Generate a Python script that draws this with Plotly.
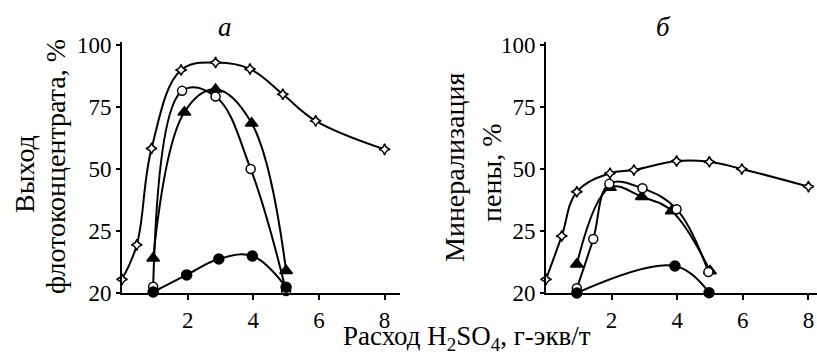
import plotly.graph_objects as go

W, H = 817, 358

# ---- data (y in drawn-axis units: 0 is labelled "20") ----
x_tick_vals = [2, 4, 6, 8]
y_tick_vals = [0, 25, 50, 75, 100]
y_tick_text = ["20", "25", "50", "75", "100"]

a_star_x = [0, 0.45, 0.9, 1.8, 2.85, 3.9, 4.9, 5.9, 8.0]
a_star_y = [5.5, 19.4, 58.3, 89.9, 92.9, 90.3, 80.1, 69.4, 57.9]
a_tri_x = [0.95, 1.9, 2.85, 3.95, 5.0]
a_tri_y = [14, 72.9, 82.1, 68.4, 9]
a_open_x = [0.95, 1.83, 2.85, 3.92, 5.0]
a_open_y = [2.5, 81.5, 79.2, 50, 0.8]
a_fill_x = [0.95, 1.97, 2.95, 3.97, 5.0]
a_fill_y = [0.4, 7.3, 13.7, 14.9, 2.3]

b_star_x = [0, 0.48, 0.94, 1.95, 2.68, 3.98, 4.98, 5.97, 8.0]
b_star_y = [5.5, 23, 40.8, 48.3, 49.6, 53.2, 52.9, 50, 42.9]
b_tri_x = [0.94, 1.95, 2.92, 3.83, 5.0]
b_tri_y = [11.6, 42.5, 38.8, 33.1, 8.9]
b_open_x = [0.94, 1.44, 1.93, 2.94, 3.98, 4.95]
b_open_y = [1.9, 21.8, 44, 42.2, 33.8, 8.5]
b_fill_x = [0.94, 3.93, 4.97]
b_fill_y = [0, 10.9, 0.1]

FONT = "Liberation Serif, Times New Roman, serif"
BLACK = "#000000"

fig = go.Figure()

def add(x, y, symbol, size, fill, xa, ya):
    fig.add_trace(go.Scatter(
        x=x, y=y, xaxis=xa, yaxis=ya, mode="lines+markers",
        line=dict(color=BLACK, width=2, shape="spline", smoothing=1.1),
        marker=dict(symbol=symbol, size=size, color=fill,
                    line=dict(color=BLACK, width=1.5)),
        cliponaxis=False, showlegend=False, hoverinfo="skip"))

for xa, ya, series in [
    ("x", "y", [(a_star_x, a_star_y), (a_tri_x, a_tri_y), (a_open_x, a_open_y), (a_fill_x, a_fill_y)]),
    ("x2", "y2", [(b_star_x, b_star_y), (b_tri_x, b_tri_y), (b_open_x, b_open_y), (b_fill_x, b_fill_y)]),
]:
    (sx, sy), (tx, ty), (ox, oy), (fx, fy) = series
    add(sx, sy, "star-diamond", 8, "white", xa, ya)
    add(tx, ty, "triangle-up", 11, BLACK, xa, ya)
    add(ox, oy, "circle", 9, "white", xa, ya)
    add(fx, fy, "circle", 10, BLACK, xa, ya)

ydom = [(H - 293) / H, (H - 42) / H]
tfont = dict(family=FONT, size=23, color=BLACK)
common_x = dict(showgrid=False, zeroline=False, showline=True, linecolor=BLACK,
                linewidth=2, ticks="outside", ticklen=5, tickwidth=1.5,
                tickcolor=BLACK, tickvals=x_tick_vals, tickfont=tfont,
                automargin=False)
common_y = dict(showgrid=False, zeroline=False, showline=True, linecolor=BLACK,
                linewidth=2, ticks="outside", ticklen=4, tickwidth=1.5,
                tickcolor=BLACK, tickvals=y_tick_vals, ticktext=y_tick_text,
                range=[0, 101.2], domain=ydom, tickfont=tfont,
                automargin=False)

fig.update_layout(
    width=W, height=H, autosize=False,
    margin=dict(l=0, r=0, t=0, b=0, pad=0),
    font=dict(family=FONT, size=23, color=BLACK),
    paper_bgcolor="white", plot_bgcolor="white",
    xaxis=dict(common_x, domain=[122 / W, 400 / W], range=[0, 8.47], anchor="y"),
    yaxis=dict(common_y, anchor="x"),
    xaxis2=dict(common_x, domain=[546 / W, 1.0], range=[0, 8.26], anchor="y2"),
    yaxis2=dict(common_y, anchor="x2"),
)

def ann(text, x, y, size, angle=0, italic=False):
    fig.add_annotation(
        text=text, x=x / W, y=(H - y) / H, xref="paper", yref="paper",
        showarrow=False, textangle=angle, xanchor="center", yanchor="middle",
        font=dict(family=FONT, size=size, color=BLACK,
                  style="italic" if italic else "normal"))

ann("а", 225, 27, 27, italic=True)
ann("б", 663, 27, 27, italic=True)
ann("Выход", 24, 174, 28, angle=-90)
ann("флотоконцентрата, %", 55, 167, 28, angle=-90)
ann("Минерализация", 455, 168, 28, angle=-90)
ann("пены, %", 491, 173, 28, angle=-90)
ann("Расход H<sub>2</sub>SO<sub>4</sub>, г-экв/т", 467, 338, 27)

fig.write_html(
    "out.html",
    config={"displayModeBar": False},
    post_script="document.body.style.margin='0';document.body.style.overflow='hidden';",
)
